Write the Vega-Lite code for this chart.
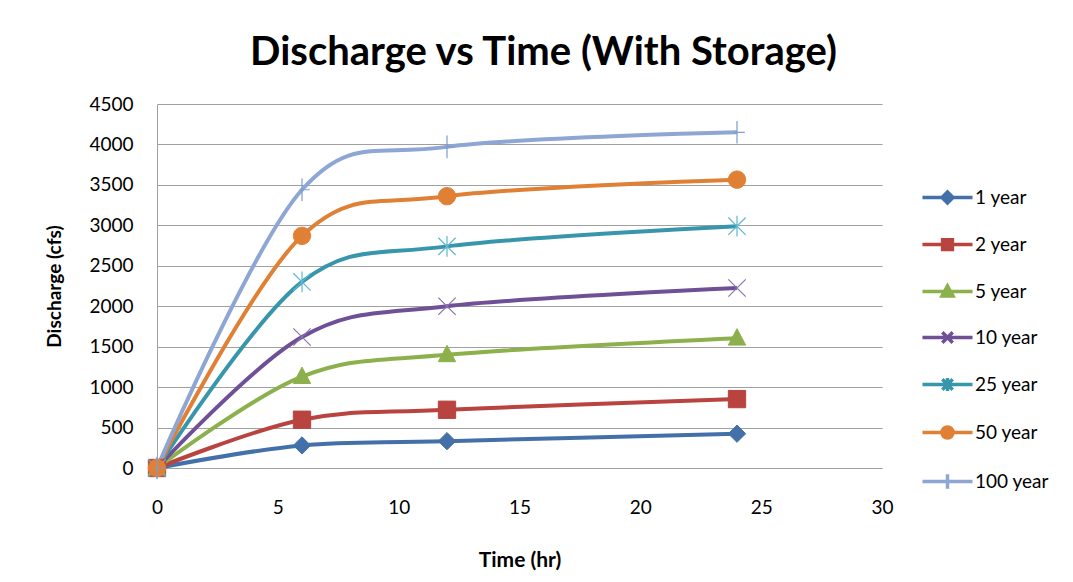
{
  "$schema": "https://vega.github.io/schema/vega-lite/v6.json",
  "width": 725,
  "height": 364,
  "autosize": {"type": "none"},
  "padding": {"left": 157, "top": 104, "right": 191, "bottom": 114},
  "background": "white",
  "title": {
    "text": "Discharge vs Time (With Storage)",
    "font": "Lato",
    "fontSize": 40,
    "fontWeight": "bold",
    "color": "#000000",
    "anchor": "middle",
    "baseline": "alphabetic",
    "offset": 35,
    "dx": 24,
    "dy": 45
  },
  "config": {
    "font": "Lato",
    "view": {"stroke": null},
    "legend": {"symbolSize": 169}
  },
  "data": {
    "values": [
      {"series": "1 year", "t": 0, "q": 0},
      {"series": "1 year", "t": 6, "q": 279},
      {"series": "1 year", "t": 12, "q": 332},
      {"series": "1 year", "t": 24, "q": 424},
      {"series": "2 year", "t": 0, "q": 0},
      {"series": "2 year", "t": 6, "q": 597},
      {"series": "2 year", "t": 12, "q": 720},
      {"series": "2 year", "t": 24, "q": 852},
      {"series": "5 year", "t": 0, "q": 0},
      {"series": "5 year", "t": 6, "q": 1130},
      {"series": "5 year", "t": 12, "q": 1400},
      {"series": "5 year", "t": 24, "q": 1605},
      {"series": "10 year", "t": 0, "q": 0},
      {"series": "10 year", "t": 6, "q": 1620},
      {"series": "10 year", "t": 12, "q": 2000},
      {"series": "10 year", "t": 24, "q": 2225},
      {"series": "25 year", "t": 0, "q": 0},
      {"series": "25 year", "t": 6, "q": 2300},
      {"series": "25 year", "t": 12, "q": 2740},
      {"series": "25 year", "t": 24, "q": 2990},
      {"series": "50 year", "t": 0, "q": 0},
      {"series": "50 year", "t": 6, "q": 2870},
      {"series": "50 year", "t": 12, "q": 3360},
      {"series": "50 year", "t": 24, "q": 3565},
      {"series": "100 year", "t": 0, "q": 0},
      {"series": "100 year", "t": 6, "q": 3440},
      {"series": "100 year", "t": 12, "q": 3970},
      {"series": "100 year", "t": 24, "q": 4150}
    ]
  },
  "encoding": {
    "x": {
      "field": "t",
      "type": "quantitative",
      "scale": {"domain": [0, 30], "nice": false},
      "axis": {
        "title": "Time (hr)",
        "values": [0, 5, 10, 15, 20, 25, 30],
        "format": "d",
        "grid": false,
        "ticks": false,
        "domainColor": "#A0A0A0",
        "labelFont": "Lato",
        "labelFontSize": 19,
        "labelColor": "#000000",
        "labelPadding": 30,
        "labelFlush": false,
        "titleFont": "Lato",
        "titleFontSize": 21,
        "titleFontWeight": "bold",
        "titleColor": "#000000",
        "titlePadding": 32
      }
    },
    "y": {
      "field": "q",
      "type": "quantitative",
      "scale": {"domain": [0, 4500], "nice": false},
      "axis": {
        "title": "Discharge (cfs)",
        "values": [0, 500, 1000, 1500, 2000, 2500, 3000, 3500, 4000, 4500],
        "format": "d",
        "grid": true,
        "gridColor": "#A0A0A0",
        "gridWidth": 1,
        "ticks": false,
        "domainColor": "#A0A0A0",
        "labelFont": "Lato",
        "labelFontSize": 19,
        "labelColor": "#000000",
        "labelPadding": 24,
        "titleFont": "Lato",
        "titleFontSize": 19,
        "titleFontWeight": "bold",
        "titleColor": "#000000",
        "titlePadding": 24
      }
    }
  },
  "layer": [
    {
      "mark": {"type": "line", "interpolate": "cardinal", "tension": 0, "strokeWidth": 4},
      "encoding": {
        "color": {
          "field": "series",
          "type": "nominal",
          "sort": ["1 year", "2 year", "5 year", "10 year", "25 year", "50 year", "100 year"],
          "scale": {
            "domain": ["1 year", "2 year", "5 year", "10 year", "25 year", "50 year", "100 year"],
            "range": ["#4470AA", "#B8433F", "#8CB04C", "#6F5096", "#3796AB", "#E08035", "#8EA6D3"]
          },
          "legend": {
            "title": null,
            "orient": "none",
            "legendX": 781,
            "legendY": 84,
            "padding": 0,
            "labelFont": "Lato",
            "labelFontSize": 19,
            "labelColor": "#000000",
            "labelOffset": 18,
            "rowPadding": 21,
            "symbolSize": 169,
            "encode": {
              "symbols": {
                "update": {
                  "size": {"value": 169},
                  "strokeWidth": {"value": 3.5},
                  "opacity": {"value": 1},
                  "fillOpacity": {"value": 1},
                  "strokeOpacity": {"value": 1},
                  "stroke": {"signal": "scale('color', datum.value)"},
                  "fill": {"signal": "scale('color', datum.value)"},
                  "shape": {"signal": "datum.value === '1 year' ? 'M-3.85,0L3.85,0M0,-0.85L0.85,0L0,0.85L-0.85,0Z' : datum.value === '2 year' ? 'M-3.85,0L3.85,0M-0.75,-0.75L0.75,-0.75L0.75,0.75L-0.75,0.75Z' : datum.value === '5 year' ? 'M-3.85,0L3.85,0M0,-0.85L0.85,0.7L-0.85,0.7Z' : datum.value === '10 year' ? 'M-3.85,0L3.85,0M-0.8,-0.8L0.8,0.8M-0.8,0.8L0.8,-0.8' : datum.value === '25 year' ? 'M-3.85,0L3.85,0M-0.8,-0.8L0.8,0.8M-0.8,0.8L0.8,-0.8M0,-1L0,1' : datum.value === '50 year' ? 'M-3.85,0L3.85,0M0.85,0A0.85,0.85,0,1,1,-0.85,0A0.85,0.85,0,1,1,0.85,0Z' : 'M-3.85,0L3.85,0M0,-1.1L0,1.1'"}
                }
              }
            }
          }
        }
      }
    },
    {
      "transform": [{"filter": "datum.series === '1 year'"}],
      "mark": {"type": "point", "filled": true, "size": 300, "shape": "M0,-1L1,0L0,1L-1,0Z", "fill": "#4470AA", "stroke": "#4470AA", "strokeWidth": 1, "opacity": 1}
    },
    {
      "transform": [{"filter": "datum.series === '2 year'"}],
      "mark": {"type": "point", "filled": true, "size": 300, "shape": "M-1,-1L1,-1L1,1L-1,1Z", "fill": "#B8433F", "stroke": "#B8433F", "strokeWidth": 1, "opacity": 1}
    },
    {
      "transform": [{"filter": "datum.series === '5 year'"}],
      "mark": {"type": "point", "filled": true, "size": 300, "shape": "M0,-1.1L1,0.8L-1,0.8Z", "fill": "#8CB04C", "stroke": "#8CB04C", "strokeWidth": 1, "opacity": 1}
    },
    {
      "transform": [{"filter": "datum.series === '10 year'"}],
      "mark": {"type": "point", "filled": true, "size": 300, "shape": "M-1,-1L1,1M-1,1L1,-1", "fill": "#8A73B0", "stroke": "#8A73B0", "strokeWidth": 1.2, "opacity": 1}
    },
    {
      "transform": [{"filter": "datum.series === '25 year'"}],
      "mark": {"type": "point", "filled": true, "size": 300, "shape": "M-1,-1L1,1M-1,1L1,-1M0,-1.2L0,1.2", "fill": "#5FB8CF", "stroke": "#5FB8CF", "strokeWidth": 1.2, "opacity": 1}
    },
    {
      "transform": [{"filter": "datum.series === '50 year'"}],
      "mark": {"type": "point", "filled": true, "size": 300, "shape": "M1,0A1,1,0,1,1,-1,0A1,1,0,1,1,1,0Z", "fill": "#E08035", "stroke": "#E08035", "strokeWidth": 1, "opacity": 1}
    },
    {
      "transform": [{"filter": "datum.series === '100 year'"}],
      "mark": {"type": "point", "filled": true, "size": 300, "shape": "M0,-1.3L0,1.3M-0.3,0L0.9,0", "fill": "#7F9CCF", "stroke": "#7F9CCF", "strokeWidth": 1.2, "opacity": 1}
    }
  ]
}
